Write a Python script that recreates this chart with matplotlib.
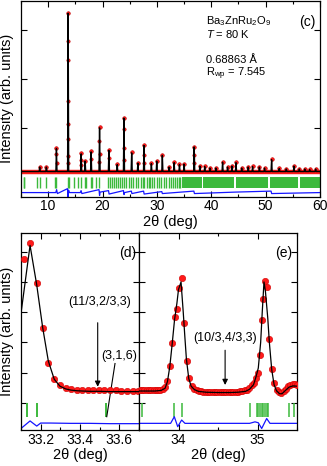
import numpy as np
import matplotlib.pyplot as plt

plt.rcParams['font.family'] = ['Liberation Sans', 'DejaVu Sans']
plt.rcParams['mathtext.fontset'] = 'custom'
plt.rcParams['mathtext.rm'] = 'Liberation Sans'
plt.rcParams['mathtext.it'] = 'Liberation Sans:italic'

# ---- panel (c): full pattern ----
peak_pos = [8.44, 9.67, 11.52, 13.67, 16.07, 16.8, 17.9, 19.45, 21.17, 22.7,
            23.94, 25.36, 26.5, 27.63, 28.98, 29.97, 31.0, 32.24, 33.17, 34.15,
            35.0, 36.86, 37.9, 38.8, 39.75, 40.85, 42.08, 43.0, 43.8, 44.55,
            45.6, 46.8, 47.6, 48.85, 49.8, 51.1, 52.5, 53.8, 55.2, 56.2,
            57.2, 58.1, 59.2]
peak_obs = [0.22, 0.22, 0.60, 3.36, 0.49, 0.34, 0.53, 1.02, 0.56, 0.27,
            1.22, 0.51, 0.30, 0.66, 0.29, 0.34, 0.46, 0.22, 0.31, 0.27,
            0.28, 0.63, 0.24, 0.23, 0.20, 0.20, 0.32, 0.22, 0.24, 0.31,
            0.20, 0.22, 0.23, 0.22, 0.20, 0.37, 0.19, 0.18, 0.24, 0.18,
            0.18, 0.17, 0.18]
base_c = 0.12
flank_x = [13.62, 13.63, 13.72, 13.62, 13.72, 13.63, 13.73,
           19.40, 19.50, 19.42, 23.90, 23.98, 23.91, 11.48, 11.56,
           27.60, 27.67, 36.83, 36.90, 16.04, 16.11, 21.14, 17.87]
flank_y = [2.79, 2.39, 1.56, 1.09, 0.78, 0.44, 0.30,
           0.75, 0.48, 0.32, 0.98, 0.61, 0.36, 0.47, 0.30,
           0.45, 0.30, 0.45, 0.30, 0.35, 0.25, 0.40, 0.38]
refl_c = [5.49, 5.62, 7.94, 8.44, 9.66, 11.2, 11.5, 13.65, 13.9, 14.7, 15.4,
          16.1, 16.7, 17.0, 17.8, 18.1, 18.8, 19.4, 21.0, 21.3, 21.7, 22.1,
          22.5, 22.9, 23.2, 23.6, 23.9, 24.4, 24.8, 25.2, 25.6, 26.2, 26.5,
          27.0, 27.5, 27.7, 28.2, 28.5, 28.8, 29.1, 29.5, 30.0, 30.3, 30.8,
          31.3, 31.7, 32.2, 32.5, 33.0, 33.4, 33.7, 34.0, 34.3]
refl_bands = [(34.7, 38.3), (38.45, 44.2), (44.55, 50.45), (50.75, 55.95), (56.3, 60.0)]
diff_c_x = [5.0, 9.6, 11.4, 11.55, 11.7, 13.55, 13.65, 13.75, 13.9, 15.9, 16.05,
            16.2, 19.35, 19.45, 19.55, 21.1, 21.2, 23.85, 23.95, 24.05, 25.3,
            25.4, 27.55, 27.65, 30.9, 31.0, 36.8, 36.9, 44.5, 51.0, 51.1, 60.0]
diff_c_y = [-0.31, -0.31, -0.31, -0.25, -0.33, -0.23, -0.42, -0.26, -0.31, -0.31, -0.27,
            -0.33, -0.25, -0.37, -0.30, -0.27, -0.34, -0.27, -0.35, -0.31, -0.28,
            -0.33, -0.28, -0.34, -0.29, -0.33, -0.28, -0.33, -0.30, -0.28, -0.33, -0.31]

# ---- panel (d) ----
d_x = [33.117, 33.146, 33.180, 33.210, 33.239, 33.269, 33.298, 33.327, 33.354,
       33.383, 33.412, 33.439, 33.468, 33.497, 33.524, 33.553, 33.582, 33.609,
       33.638, 33.667, 33.694]
d_obs = [4.75, 5.28, 3.95, 2.46, 1.33, 0.79, 0.59, 0.50, 0.46, 0.44, 0.43,
         0.43, 0.42, 0.42, 0.42, 0.41, 0.41, 0.40, 0.40, 0.40, 0.40]
d_calc_x = [33.100, 33.146, 33.180, 33.210, 33.239, 33.269, 33.298, 33.327,
            33.354, 33.383, 33.412, 33.45, 33.50, 33.55, 33.60, 33.65, 33.70]
d_calc_y = [2.96, 5.21, 3.90, 2.50, 1.38, 0.78, 0.55, 0.46, 0.42, 0.40, 0.39,
            0.38, 0.38, 0.37, 0.37, 0.37, 0.37]
d_diff_x = [33.10, 33.146, 33.18, 33.20, 33.25, 33.35, 33.45, 33.55, 33.65, 33.70]
d_diff_y = [-0.85, -0.60, -0.77, -0.67, -0.67, -0.68, -0.68, -0.69, -0.69, -0.69]
d_refl = [33.132, 33.180, 33.532]

# ---- panel (e) ----
e_x = [33.510, 33.539, 33.568, 33.597, 33.626, 33.655, 33.684, 33.713, 33.742,
       33.771, 33.800, 33.829, 33.858, 33.890, 33.922, 33.956, 33.981, 34.010,
       34.044, 34.070, 34.104, 34.133, 34.167, 34.200, 34.229, 34.258, 34.287,
       34.316, 34.345, 34.374, 34.403, 34.432, 34.461, 34.490, 34.519, 34.548,
       34.577, 34.606, 34.635, 34.664, 34.693, 34.722, 34.751, 34.780, 34.809,
       34.838, 34.867, 34.896, 34.925, 34.952, 34.981, 35.010, 35.032, 35.053,
       35.075, 35.095, 35.124, 35.149, 35.180, 35.213, 35.243, 35.272, 35.301,
       35.330, 35.359, 35.388, 35.417, 35.446, 35.475, 35.500]
e_obs = [0.41, 0.41, 0.41, 0.41, 0.41, 0.41, 0.41, 0.42, 0.42,
         0.43, 0.45, 0.52, 0.73, 1.22, 1.99, 2.83, 3.09, 3.79,
         4.14, 2.65, 1.38, 0.81, 0.55, 0.46, 0.42, 0.40, 0.38,
         0.37, 0.36, 0.36, 0.35, 0.35, 0.35, 0.35, 0.35, 0.35,
         0.35, 0.35, 0.35, 0.35, 0.36, 0.36, 0.37, 0.38, 0.39,
         0.41, 0.44, 0.50, 0.60, 0.66, 0.81, 0.99, 1.58, 2.74,
         3.42, 4.02, 3.82, 2.11, 1.11, 0.66, 0.44, 0.36, 0.34,
         0.38, 0.46, 0.55, 0.60, 0.62, 0.62, 0.60]
e_calc_x = [33.50, 33.60, 33.70, 33.78, 33.83, 33.86, 33.89, 33.92, 33.95, 33.98,
            34.00, 34.032, 34.06, 34.08, 34.10, 34.13, 34.16, 34.20, 34.25, 34.35,
            34.50, 34.65, 34.75, 34.85, 34.90, 34.95, 34.98, 35.01, 35.04, 35.06,
            35.082, 35.10, 35.13, 35.15, 35.18, 35.21, 35.24, 35.28, 35.31, 35.35,
            35.40, 35.45, 35.50]
e_calc_y = [0.39, 0.39, 0.39, 0.41, 0.48, 0.70, 1.20, 1.95, 2.75, 3.30,
            3.75, 4.00, 3.00, 2.20, 1.45, 0.80, 0.55, 0.44, 0.38, 0.35,
            0.34, 0.34, 0.35, 0.38, 0.45, 0.60, 0.85, 1.15, 2.00, 3.00,
            4.00, 3.70, 2.80, 2.00, 1.10, 0.60, 0.40, 0.30, 0.30, 0.40,
            0.52, 0.56, 0.55]
e_diff_x = [33.50, 33.90, 33.947, 33.99, 34.04, 34.082, 34.90, 34.968, 35.01,
            35.053, 35.116, 35.158, 35.50]
e_diff_y = [-0.68, -0.68, -0.46, -0.79, -0.57, -0.68, -0.68, -0.63, -0.66,
            -0.85, -0.52, -0.68, -0.68]
e_refl = [33.534, 33.947, 34.040, 34.905, 34.990, 35.010, 35.032, 35.053,
          35.073, 35.095, 35.116, 35.137, 35.403, 35.466]

red = '#ff1a1a'
green = '#3cb93c'
blue = '#1414ff'

fig = plt.figure(figsize=(3.27, 4.66), dpi=100)
W, H = 327, 466


def box(l, t, r, b):
    return [l / W, 1 - b / H, (r - l) / W, (b - t) / H]


def style(ax, fs=10):
    ax.tick_params(which='both', direction='in', top=True, right=True,
                   labelsize=fs, pad=2)
    ax.tick_params(which='major', length=4, width=0.8)
    ax.tick_params(which='minor', length=2, width=0.8)
    ax.set_yticklabels([])
    for s in ax.spines.values():
        s.set_linewidth(0.9)


# ---- (c) ----
axc = fig.add_axes(box(21, 1, 320, 196.5))
cx = [5.0]
cy = [base_c]
for p, h in zip(peak_pos, peak_obs):
    cx += [p - 0.1, p, p + 0.1]
    cy += [base_c, h - 0.01, base_c]
cx.append(60.0)
cy.append(base_c)
axc.plot([5.0, 60.0], [base_c, base_c], color=red, lw=3.2, zorder=2)
axc.plot(peak_pos, peak_obs, 'o', ms=2.6, color=red, mec='#c00000', mew=0.4, zorder=3)
axc.plot(flank_x, flank_y, 'o', ms=2.4, color=red, mec='#c00000', mew=0.4, zorder=3)
axc.plot(cx, cy, color='black', lw=1.0, zorder=4)
axc.vlines(refl_c, -0.21, 0.0, color=green, lw=1.0)
axc.broken_barh([(a, b - a) for a, b in refl_bands], (-0.21, 0.21), color=green, lw=0)
axc.plot(diff_c_x, diff_c_y, color=blue, lw=0.9)
axc.set_xlim(5, 60)
axc.set_ylim(-0.39, 3.6)
axc.set_xticks([10, 20, 30, 40, 50, 60])
axc.set_xticks([5, 15, 25, 35, 45, 55], minor=True)
axc.set_yticks([1, 2, 3])
style(axc)
axc.set_xlabel('2θ (deg)', fontsize=10.5, labelpad=1)
axc.set_ylabel('Intensity (arb. units)', fontsize=10.5, labelpad=3)
axc.text(39.0, 3.12, r'Ba$_3$ZnRu$_2$O$_9$', fontsize=8, va='baseline')
axc.text(39.0, 2.85, r'$T$ = 80 K', fontsize=8, va='baseline')
axc.text(39.0, 2.33, '0.68863 Å', fontsize=8, va='baseline')
axc.text(39.0, 2.06, r'R$_{\rm wp}$ = 7.545', fontsize=8, va='baseline')
axc.text(57.7, 3.18, '(c)', fontsize=10, ha='center', va='center')

# ---- (d) ----
axd = fig.add_axes(box(21, 233, 139, 430))
axd.plot(d_calc_x, d_calc_y, color='black', lw=0.9, zorder=4)
axd.plot(d_x, d_obs, 'o', ms=4.6, color=red, mec='#d00000', mew=0.4, zorder=3)
axd.vlines(d_refl, -0.47, 0.0, color=green, lw=1.4)
axd.plot(d_diff_x, d_diff_y, color=blue, lw=0.9)
axd.set_xlim(33.1, 33.7)
axd.set_ylim(-0.9, 5.62)
axd.set_xticks([33.2, 33.4, 33.6])
axd.set_xticks([33.1, 33.3, 33.5, 33.7], minor=True)
axd.set_yticks([0, 1, 2, 3, 4, 5])
style(axd)
axd.set_xlabel('2θ (deg)', fontsize=10.5, labelpad=1)
axd.set_ylabel('Intensity (arb. units)', fontsize=10.5, labelpad=3)
axd.text(33.64, 4.97, '(d)', fontsize=10, ha='center', va='center')
axd.text(33.50, 3.34, '(11/3,2/3,3)', fontsize=9, ha='center', va='center')
axd.annotate('', xy=(33.49, 0.53), xytext=(33.49, 2.65),
             arrowprops=dict(arrowstyle='-|>', color='black', lw=0.8,
                             mutation_scale=8, shrinkA=0, shrinkB=0))
axd.text(33.60, 1.55, '(3,1,6)', fontsize=9, ha='center', va='center')
axd.plot([33.578, 33.536], [1.30, -0.46], color='black', lw=0.8)

# ---- (e) ----
axe = fig.add_axes(box(139, 233, 297, 430))
axe.plot(e_calc_x, e_calc_y, color='black', lw=0.9, zorder=4)
axe.plot(e_x, e_obs, 'o', ms=4.6, color=red, mec='#d00000', mew=0.4, zorder=3)
axe.vlines(e_refl, -0.47, 0.0, color=green, lw=1.1)
axe.plot(e_diff_x, e_diff_y, color=blue, lw=0.9)
axe.set_xlim(33.5, 35.5)
axe.set_ylim(-0.9, 5.62)
axe.set_xticks([34, 35])
axe.set_xticks([33.5, 34.5, 35.5], minor=True)
axe.set_yticks([0, 1, 2, 3, 4, 5])
style(axe)
axe.set_xlabel('2θ (deg)', fontsize=10.5, labelpad=1)
axe.text(35.33, 4.97, '(e)', fontsize=10, ha='center', va='center')
axe.text(34.59, 2.16, '(10/3,4/3,3)', fontsize=9, ha='center', va='center')
axe.annotate('', xy=(34.59, 0.59), xytext=(34.59, 1.74),
             arrowprops=dict(arrowstyle='-|>', color='black', lw=0.8,
                             mutation_scale=8, shrinkA=0, shrinkB=0))

fig.savefig('out.png', dpi=100)
